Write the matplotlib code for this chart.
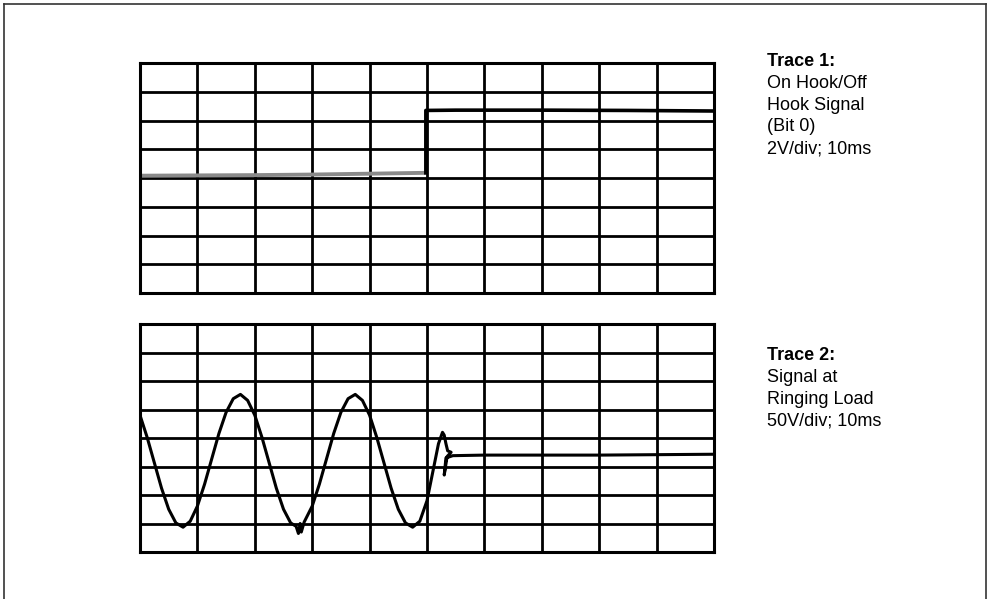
import matplotlib
matplotlib.use("Agg")
import matplotlib.pyplot as plt
from matplotlib.lines import Line2D

W, H = 990, 599
plt.rcParams['font.family'] = ['Liberation Sans', 'DejaVu Sans']

# ---- data (divisions: x 0..10, y -4..4) ----
trace1_t = [0.0, 1.0, 2.0, 3.0, 4.0, 4.98]
trace1_low = [0.08, 0.09, 0.10, 0.12, 0.15, 0.18]
trace1_high_t = [4.98, 4.98, 5.5, 7.0, 8.5, 10.0]
trace1_high = [0.18, 2.35, 2.36, 2.36, 2.35, 2.33]

trace2_t = [0.0, 0.125, 0.25, 0.375, 0.5, 0.625, 0.75, 0.875, 1.0, 1.125, 1.25,
            1.375, 1.5, 1.625, 1.75, 1.875, 2.0, 2.125, 2.25, 2.375, 2.5, 2.625,
            2.72, 2.76, 2.79, 2.81, 2.86, 3.0, 3.125, 3.25, 3.375, 3.5, 3.625,
            3.75, 3.875, 4.0, 4.125, 4.25, 4.375, 4.5, 4.625, 4.75, 4.875, 5.0,
            5.1, 5.2, 5.27, 5.3, 5.33, 5.36, 5.42, 5.35, 5.3, 5.33, 5.45, 6.0,
            8.0, 10.0]
trace2_v = [0.80, 0.02, -0.87, -1.76, -2.50, -2.98, -3.13, -2.92, -2.39, -1.62,
            -0.73, 0.16, 0.90, 1.38, 1.53, 1.32, 0.80, 0.02, -0.87, -1.76, -2.50,
            -2.98, -3.10, -3.35, -3.00, -3.30, -2.95, -2.39, -1.62, -0.73, 0.16,
            0.90, 1.38, 1.53, 1.32, 0.80, 0.02, -0.87, -1.76, -2.50, -2.98, -3.13,
            -2.92, -2.20, -1.20, -0.20, 0.20, 0.10, -0.20, -0.45, -0.50, -0.65,
            -1.30, -0.70, -0.62, -0.60, -0.60, -0.57]

label1 = ["Trace 1:", "On Hook/Off", "Hook Signal", "(Bit 0)", "2V/div; 10ms"]
label2 = ["Trace 2:", "Signal at", "Ringing Load", "50V/div; 10ms"]

fig = plt.figure(figsize=(W / 100, H / 100), dpi=100)
fig.patch.set_facecolor('white')

def px_axes(x0, y0, x1, y1):
    return fig.add_axes([x0 / W, 1 - y1 / H, (x1 - x0) / W, (y1 - y0) / H])

def scope(ax):
    ax.set_xlim(0, 10)
    ax.set_ylim(-4, 4)
    ax.set_xticks(range(11))
    ax.set_yticks(range(-4, 5))
    ax.tick_params(length=0, labelbottom=False, labelleft=False)
    ax.grid(True, color='black', linewidth=2.0)
    for s in ax.spines.values():
        s.set_linewidth(2.2)
        s.set_color('black')
    ax.set_facecolor('white')

ax1 = px_axes(140, 63, 714, 293)
scope(ax1)
ax1.plot(trace1_t, trace1_low, color='#8a8a8a', linewidth=2.8, solid_capstyle='butt')
ax1.plot(trace1_high_t, trace1_high, color='black', linewidth=2.6)

ax2 = px_axes(140, 324, 714, 552)
scope(ax2)
ax2.plot(trace2_t, trace2_v, color='black', linewidth=2.2, clip_on=True)

# text blocks (baselines in px)
def block(lines, x, y0, dy):
    for i, s in enumerate(lines):
        fig.text(x / W, 1 - (y0 + i * dy) / H, s, fontsize=13,
                 fontweight='bold' if i == 0 else 'normal',
                 ha='left', va='baseline', color='black')

block(label1, 767, 66, 21.8)
block(label2, 767, 360, 21.8)

# outer frame (bottom edge beyond picture)
fc = '#333333'
fig.add_artist(Line2D([4 / W, 4 / W], [1 - 4 / H, 0], color=fc, linewidth=1.2, transform=fig.transFigure))
fig.add_artist(Line2D([4 / W, 986 / W], [1 - 4 / H, 1 - 4 / H], color=fc, linewidth=1.2, transform=fig.transFigure))
fig.add_artist(Line2D([986 / W, 986 / W], [1 - 4 / H, 0], color=fc, linewidth=1.2, transform=fig.transFigure))

fig.savefig("out.png", dpi=100)
